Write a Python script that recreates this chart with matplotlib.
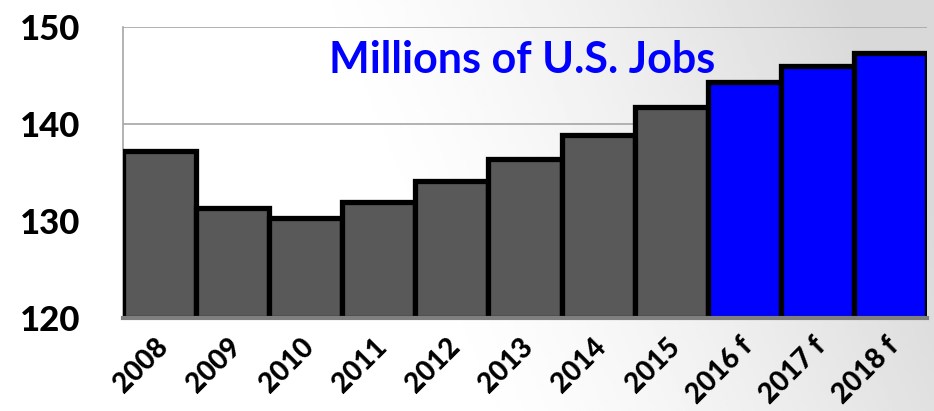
import numpy as np
import matplotlib
matplotlib.use('Agg')
import matplotlib.pyplot as plt
import matplotlib.transforms as mtransforms

years = ["2008", "2009", "2010", "2011", "2012", "2013", "2014", "2015",
         "2016 f", "2017 f", "2018 f"]
jobs = [137.2, 131.3, 130.3, 132.0, 134.1, 136.4, 138.9, 141.8, 144.3, 146.0, 147.3]
forecast = [False] * 8 + [True] * 3
yticks = [120, 130, 140, 150]

plt.rcParams['font.family'] = ['Lato', 'DejaVu Sans']

fig = plt.figure(figsize=(9.34, 4.11), dpi=100)

# background gradient: white on the left, light gray toward the right
bg = fig.add_axes([0, 0, 1, 1], zorder=-10)
gx = np.linspace(0, 1, 400)
gy = np.linspace(0, 1, 200)
X, Y = np.meshgrid(gx, gy)
t = np.clip((X - 0.4) / 0.6 + (Y - 0.5) * 0.3, 0, 1)
shade = 1.0 - 0.15 * t ** 1.4
bg.imshow(shade, cmap='gray', vmin=0, vmax=1, aspect='auto', extent=[0, 1, 0, 1], origin='lower')
bg.axis('off')

ax = fig.add_axes([0.1317, 0.2263, 0.8608, 0.7077])
ax.set_facecolor('none')

x = np.arange(len(years))
colors = ['#0000ff' if f else '#595959' for f in forecast]
ax.bar(x, [v - 120 for v in jobs], bottom=120, width=1.0, color=colors,
       edgecolor='black', linewidth=3.8, zorder=3)

ax.set_xlim(-0.5, len(years) - 0.5)
ax.set_ylim(120, 150)
ax.set_yticks(yticks)
ax.set_yticklabels([str(v) for v in yticks], fontsize=25, fontweight='black')
ax.grid(axis='y', color='#a6a6a6', linewidth=1.2, zorder=0)

ax.set_xticks(x)
ax.set_xticklabels(years, rotation=45, ha='right', rotation_mode='anchor',
                   fontsize=20, fontweight='black')
ax.tick_params(axis='both', length=0)
ax.tick_params(axis='y', pad=31)
ax.tick_params(axis='x', pad=11)

# nudge rotated labels so they end near the bar centre
shift = mtransforms.ScaledTranslation(-0.05, 0, fig.dpi_scale_trans)
for lab in ax.get_xticklabels():
    lab.set_transform(lab.get_transform() + shift)

for s in ['top', 'right']:
    ax.spines[s].set_visible(False)
ax.spines['left'].set_color('#a6a6a6')
ax.spines['left'].set_linewidth(1.2)
ax.spines['bottom'].set_color('#7f7f7f')
ax.spines['bottom'].set_linewidth(3)
ax.spines['bottom'].set_zorder(4)

ax.text(0.497, 0.843, "Millions of U.S. Jobs", transform=ax.transAxes,
        ha='center', va='baseline', color='#0000ff', fontsize=31, fontweight='bold', zorder=5)

fig.savefig("out.png", dpi=100)
